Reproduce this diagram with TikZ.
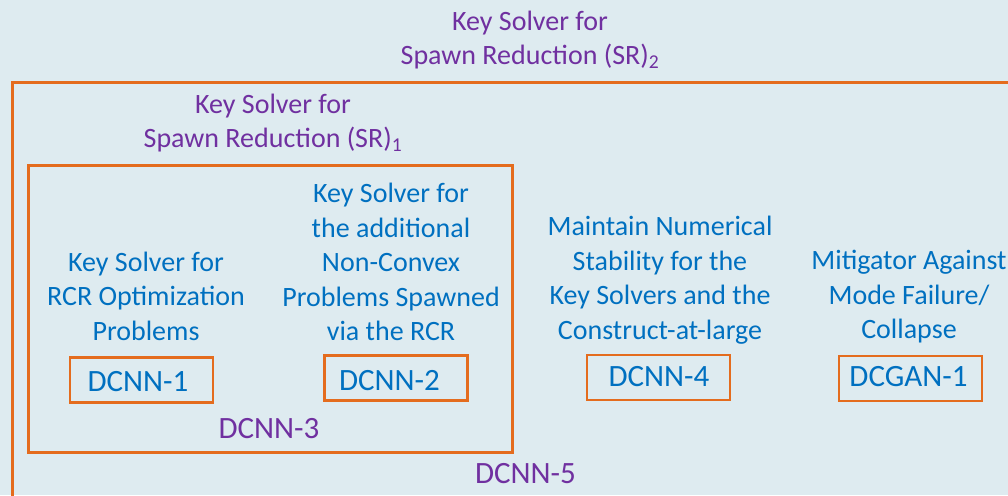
\documentclass[tikz,border=0pt]{standalone}
\usepackage{fontspec}
\setmainfont{Carlito}
\definecolor{bgblue}{RGB}{222,235,240}
\definecolor{frameorange}{RGB}{228,108,30}
\definecolor{txtblue}{RGB}{0,112,192}
\definecolor{txtpurple}{RGB}{112,48,160}
\tikzset{
  frame/.style={draw=frameorange, line width=3pt, inner sep=0pt},
  netbox/.style={draw=frameorange, line width=2.8pt, minimum width=143pt,
    minimum height=45pt, inner sep=0pt},
  netname/.style={text=txtblue, inner sep=0pt,
    font=\fontsize{31}{37}\selectfont},
  role/.style={text=txtblue, align=center, inner sep=0pt,
    font=\fontsize{28}{34.5}\selectfont},
  grouplabel/.style={text=txtpurple, align=center, inner sep=0pt,
    font=\fontsize{28}{34.5}\selectfont},
  netlabel/.style={text=txtpurple, inner sep=0pt,
    font=\fontsize{31}{37}\selectfont}
}
\begin{document}
\begin{tikzpicture}[x=1pt,y=-1pt]
  \useasboundingbox (0,0) rectangle (1008,495);
  \fill[bgblue] (0,0) rectangle (1008,495);
  \clip (0,0) rectangle (1008,495);

  % nested group frames
  \node[frame, minimum width=1040pt, minimum height=460pt, anchor=north west] (sr2) at (11,81) {};
  \node[frame, minimum width=484pt, minimum height=287pt, anchor=north west] (sr1) at (27,164) {};

  % group titles
  \node[grouplabel] (sr2title) at (530,40) {Key Solver for\\Spawn Reduction (SR)\textsubscript{2}};
  \node[grouplabel] (sr1title) at (273,123) {Key Solver for\\Spawn Reduction (SR)\textsubscript{1}};

  % roles
  \node[role] (rcr) at (146,296) {Key Solver for\\RCR Optimization\\Problems};
  \node[role] (spawned) at (391,262) {Key Solver for\\the additional\\Non-Convex\\Problems Spawned\\via the RCR};
  \node[role] (stab) at (660,280) {Maintain Numerical\\Stability for the\\Key Solvers and the\\Construct-at-large};
  \node[role] (mitig) at (909,297) {Mitigator Against\\Mode Failure/\\Collapse};

  % network boxes
  \node[netbox] (d1box) at (141.5,380) {};
  \node[netbox] (d2box) at (395.8,378.3) {};
  \node[netbox] (d4box) at (658.5,377.5) {};
  \node[netbox] (g1box) at (910.5,378.5) {};

  % network names
  \node[netname] (d1) at (138,382) {DCNN-1};
  \node[netname] (d2) at (389.5,380.5) {DCNN-2};
  \node[netname] (d4) at (659,377) {DCNN-4};
  \node[netname] (g1) at (908.5,377) {DCGAN-1};

  % group network labels
  \node[netlabel] (d3) at (269,429) {DCNN-3};
  \node[netlabel] (d5) at (525.5,474) {DCNN-5};
\end{tikzpicture}
\end{document}
